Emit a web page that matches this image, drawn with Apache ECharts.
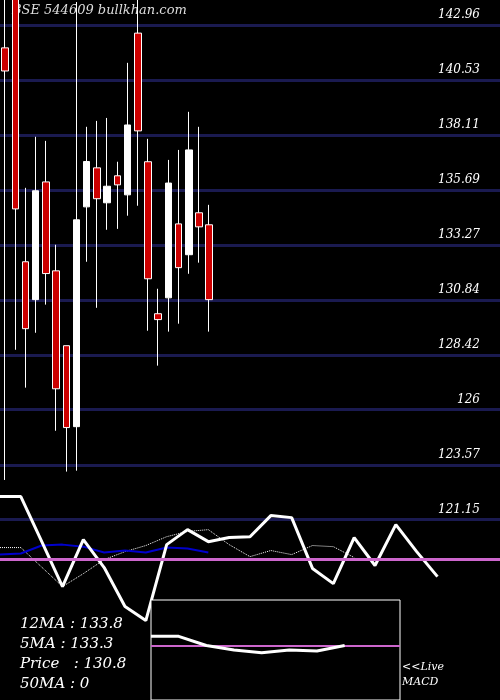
<!DOCTYPE html>
<html><head><meta charset="utf-8">
<script src="https://cdn.jsdelivr.net/npm/echarts@6/dist/echarts.min.js"></script>
<style>html,body{margin:0;background:#000}#c{width:500px;height:700px}</style>
</head><body><div id="c"></div>
<script>
// OHLC candles: [open, close, low, high]
const candles = [
 [141.95,140.93,122.9,146],[146,134.85,128.64,146.5],[132.52,129.57,126.97,135.78],
 [130.85,135.65,129.39,138.03],[136.04,132.0,130.63,137.85],[132.12,126.92,125.07,133.27],
 [128.82,125.21,123.27,128.82],[125.25,134.37,123.31,143.97],[134.94,136.94,132.52,138.47],
 [136.66,135.3,130.49,138.73],[135.12,135.85,133.93,138.86],[136.31,135.91,133.97,136.93],
 [135.47,138.55,134.55,141.29],[142.6,138.29,134.99,146],[136.93,131.77,129.48,137.94],
 [130.23,129.97,127.94,131.33],[130.93,135.99,129.44,137.01],[134.19,132.26,129.79,137.45],
 [132.83,137.45,131.99,139.13],[134.68,134.06,132.48,138.47],[134.15,130.85,129.44,135.03]
];
const priceTicks = [142.96,140.53,138.11,135.69,133.27,130.84,128.42,126,123.57,121.15];
const thickLine = [122.17,122.17,120.19,118.20,120.27,119.04,117.32,116.70,120.05,120.71,120.18,120.36,120.40,121.33,121.24,119.00,118.33,120.36,119.13,120.93,119.74,118.64];
const dottedLine = [119.92,119.92,119.06,118.20,118.77,119.39,119.74,120.01,120.40,120.63,120.71,120.05,119.52,119.79,119.61,120.01,119.96,119.48];
const blueLine = [119.61,119.66,120.01,120.05,119.96,119.70,119.79,119.70,119.92,119.88,119.70];
const refLevel = 119.39;
const macdLine = [60,60,50,45,42,45,44,50];
const macdSignal = 50;
const legendText = ['12MA : 133.8','5MA : 133.3','Price   : 130.8','50MA : 0'];

const N = 49, M = 25;
const cats = Array.from({length:N},(_,i)=>i);
const cats2 = Array.from({length:M},(_,i)=>i);
const pad = (a,n)=>a.concat(Array(n-a.length).fill(null));
const font = 'DejaVu Serif';
const chart = echarts.init(document.getElementById('c'));
chart.setOption({
  backgroundColor:'#000', animation:false,
  grid:[{left:-1,right:0,top:0,bottom:0},
        {left:151,top:600,width:249,height:110,show:true,borderColor:'#fff',borderWidth:1,backgroundColor:'#000',z:5}],
  xAxis:[{type:'category',data:cats,show:false,gridIndex:0},
         {type:'category',data:cats2,show:false,boundaryGap:false,gridIndex:0},
         {type:'category',data:cats2.slice(0,10),show:false,boundaryGap:false,gridIndex:1}],
  yAxis:[{type:'value',min:113.2,max:144.06,show:false,gridIndex:0},
         {type:'value',min:-10,max:100,show:false,gridIndex:1}],
  graphic:[{type:'text',left:12,top:4,style:{text:'BSE 544609 bullkhan.com',fill:'#ddd',font:'italic 13px '+font}}]
   .concat(legendText.map((t,i)=>({type:'text',left:20,top:617+i*20,style:{text:t,fill:'#fff',font:'italic 15px '+font}})))
   .concat([{type:'text',left:402,top:660,style:{text:'<<Live\nMACD',fill:'#fff',font:'italic 11px '+font,lineHeight:15}}]),
  series:[
    {type:'candlestick',xAxisIndex:0,yAxisIndex:0,data:candles,barWidth:7,z:3,
     itemStyle:{color:'#fff',borderColor:'#fff',color0:'#cc0000',borderColor0:'#fff',borderWidth:1},
     markLine:{silent:true,symbol:'none',z:1,lineStyle:{color:'#1a1a50',width:3,type:'solid'},
       label:{position:'insideEndTop',color:'#fff',fontStyle:'italic',fontFamily:font,fontSize:12,formatter:p=>String(p.value),distance:[20,4]},
       data:priceTicks.map(v=>({yAxis:v}))}},
    {type:'line',xAxisIndex:1,yAxisIndex:0,data:[],
     markLine:{silent:true,symbol:'none',label:{show:false},lineStyle:{color:'#cc66cc',width:3,type:'solid'},data:[{yAxis:refLevel}]}},
    {type:'line',xAxisIndex:1,yAxisIndex:0,data:pad(dottedLine,M),symbol:'none',lineStyle:{color:'#fff',width:1,type:'dotted'},z:4},
    {type:'line',xAxisIndex:1,yAxisIndex:0,data:pad(blueLine,M),symbol:'none',lineStyle:{color:'#0000cc',width:2},z:4},
    {type:'line',xAxisIndex:1,yAxisIndex:0,data:pad(thickLine,M),symbol:'none',lineStyle:{color:'#fff',width:3},z:4},
    {type:'line',xAxisIndex:2,yAxisIndex:1,data:pad(macdLine,10),symbol:'none',lineStyle:{color:'#fff',width:3},z:7,
     markLine:{silent:true,symbol:'none',label:{show:false},lineStyle:{color:'#cc66cc',width:2,type:'solid'},data:[{yAxis:macdSignal}]}}
  ]
});
</script></body></html>
